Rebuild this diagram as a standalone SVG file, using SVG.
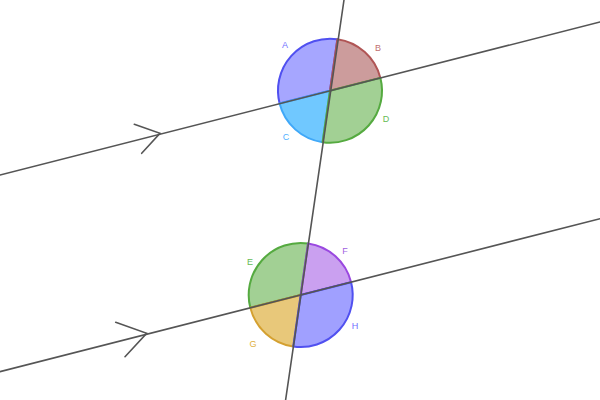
<svg xmlns="http://www.w3.org/2000/svg" width="600" height="400" viewBox="0 0 600 400">
<style>
.ln{stroke:#555;stroke-width:1.6;fill:none;stroke-linecap:round}
.sec{stroke-width:2;stroke-linejoin:round}
.lbl{font-family:"Liberation Sans",Arial,sans-serif;font-size:9px;text-anchor:middle;dominant-baseline:central}
</style>
<rect width="600" height="400" fill="#fff"/>
<g id="angles-top">
<path id="A" class="sec" d="M330,90.7 L337.4,39.2 A52,52 0 0 0 279.6,103.5 Z" fill="#a6a6ff" stroke="#5050f0"/>
<path id="B" class="sec" d="M330,90.7 L380.4,77.9 A52,52 0 0 0 337.4,39.2 Z" fill="#cc9c9c" stroke="#b05555"/>
<path id="C" class="sec" d="M330,90.7 L279.6,103.5 A52,52 0 0 0 322.6,142.2 Z" fill="#70c8ff" stroke="#40a8f8"/>
<path id="D" class="sec" d="M330,90.7 L322.6,142.2 A52,52 0 0 0 380.4,77.9 Z" fill="#a2d094" stroke="#55aa40"/>
</g>
<g id="angles-bottom">
<path id="E" class="sec" d="M300.7,295 L308.1,243.5 A52,52 0 0 0 250.3,307.8 Z" fill="#a2d094" stroke="#55aa40"/>
<path id="F" class="sec" d="M300.7,295 L351.1,282.2 A52,52 0 0 0 308.1,243.5 Z" fill="#caa0f0" stroke="#9a48e0"/>
<path id="G" class="sec" d="M300.7,295 L250.3,307.8 A52,52 0 0 0 293.3,346.5 Z" fill="#e8c87a" stroke="#d4a030"/>
<path id="H" class="sec" d="M300.7,295 L293.3,346.5 A52,52 0 0 0 351.1,282.2 Z" fill="#a0a0ff" stroke="#5050f0"/>
</g>
<g id="connectors">
<line class="ln" x1="0" y1="175" x2="600" y2="22"/>
<line class="ln" x1="0" y1="371.7" x2="600" y2="218.7"/>
<line class="ln" x1="344" y1="0" x2="285.6" y2="400"/>
<polyline class="ln" points="134.3,124.3 160,133.3 141.7,153.3"/>
<polyline class="ln" points="115.7,322.3 146.7,333.3 125,356.7"/>
</g>
<g id="labels">
<text class="lbl" x="285" y="45" fill="#7070ff">A</text>
<text class="lbl" x="378" y="48" fill="#c07070">B</text>
<text class="lbl" x="286" y="137" fill="#50b0ff">C</text>
<text class="lbl" x="386" y="119" fill="#66bb55">D</text>
<text class="lbl" x="250" y="262" fill="#66bb55">E</text>
<text class="lbl" x="345" y="251" fill="#a060e0">F</text>
<text class="lbl" x="253" y="344" fill="#e0b040">G</text>
<text class="lbl" x="355" y="326" fill="#7070ff">H</text>
</g>
</svg>
